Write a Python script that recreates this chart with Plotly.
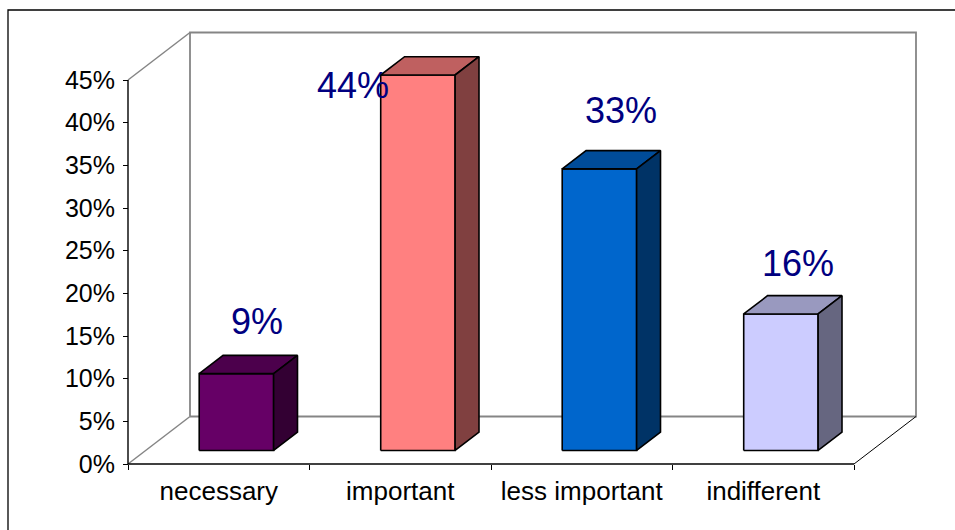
import plotly.graph_objects as go

# ---- data -------------------------------------------------------------
categories = ["necessary", "important", "less important", "indifferent"]
shares = [9, 44, 33, 16]                      # percent of answers
value_labels = ["9%", "44%", "33%", "16%"]
y_ticks = [0, 5, 10, 15, 20, 25, 30, 35, 40, 45]
y_tick_text = [f"{t}%" for t in y_ticks]

# ---- styles -----------------------------------------------------------
front_colors = ["#660066", "#FF8080", "#0066CC", "#CCCCFF"]
top_colors = ["#4C004C", "#BF6060", "#004C99", "#9999BF"]
side_colors = ["#330033", "#804040", "#003366", "#666680"]
label_offsets = [(9, 34), (-77, -29), (10, 40), (5, 32)]   # px shifts of value labels

FONT = "Liberation Sans, Arial, sans-serif"
W, H = 955, 530

# pixel frame of the chart
X0_PX, Y0_PX = 128, 464          # front-left corner of the floor
CAT_PX = 181.5                   # width of one category
PCT_PX = 8.533                   # height of one percent
PLOT_L, PLOT_R, PLOT_T, PLOT_B = 118, 926, 23, 474

x_range = [(PLOT_L - X0_PX) / CAT_PX, (PLOT_R - X0_PX) / CAT_PX]
y_range = [(Y0_PX - PLOT_B) / PCT_PX, (Y0_PX - PLOT_T) / PCT_PX]

# oblique depth of the walls, in data units
DEPTH_X = 62 / CAT_PX
DEPTH_Y = 47.5 / PCT_PX
Y_TOP = y_ticks[-1]
N = len(categories)

BAR_W = 0.41                     # bar width in categories
BAR_D0, BAR_D1 = 0.285, 0.67     # bar depth span as fraction of wall depth

fig = go.Figure()


def seg(xs, ys, color, width=1.3):
    fig.add_trace(go.Scatter(x=xs, y=ys, mode="lines",
                             line=dict(color=color, width=width),
                             hoverinfo="skip", showlegend=False))


def face(xs, ys, fill):
    fig.add_trace(go.Scatter(x=xs + [xs[0]], y=ys + [ys[0]], mode="lines",
                             fill="toself", fillcolor=fill,
                             line=dict(color="black", width=1.6),
                             hoverinfo="skip", showlegend=False))


# ---- walls and floor --------------------------------------------------
GRAY = "#858585"
bx, by = DEPTH_X, DEPTH_Y
seg([bx, bx, N + bx, N + bx, bx], [by, Y_TOP + by, Y_TOP + by, by, by], GRAY, 1.8)
seg([0, bx], [Y_TOP, Y_TOP + by], GRAY, 1.5)
seg([0, bx], [0, by], GRAY, 1.5)
seg([N, N + bx], [0, by], "black", 1.0)
seg([0, N], [0, 0], "black", 1.4)
seg([0, 0], [0, Y_TOP], "black", 1.4)

# ---- bars -------------------------------------------------------------
ddx = (BAR_D1 - BAR_D0) * DEPTH_X
ddy = (BAR_D1 - BAR_D0) * DEPTH_Y
for i, v in enumerate(shares):
    xl = i + 0.5 - BAR_W / 2 + BAR_D0 * DEPTH_X
    xr = xl + BAR_W
    yb = BAR_D0 * DEPTH_Y
    yt = yb + v
    face([xl, xr, xr, xl], [yb, yb, yt, yt], front_colors[i])
    face([xl, xr, xr + ddx, xl + ddx], [yt, yt, yt + ddy, yt + ddy], top_colors[i])
    face([xr, xr + ddx, xr + ddx, xr], [yb, yb + ddy, yt + ddy, yt], side_colors[i])

    dx, dy = label_offsets[i]
    fig.add_annotation(x=i + 0.5 + (BAR_D0 + BAR_D1) / 2 * DEPTH_X,
                       y=v + BAR_D1 * DEPTH_Y,
                       text=value_labels[i], showarrow=False,
                       xanchor="center", yanchor="middle",
                       xshift=dx, yshift=dy,
                       font=dict(family=FONT, size=36, color="#000080"))

# ---- outer chart border ----------------------------------------------
pw, ph = PLOT_R - PLOT_L, PLOT_B - PLOT_T
fig.add_shape(type="rect", xref="paper", yref="paper",
              x0=(8 - PLOT_L) / pw, x1=(962 - PLOT_L) / pw,
              y0=(PLOT_B - 540) / ph, y1=(PLOT_B - 10) / ph,
              line=dict(color="black", width=1.3), fillcolor="rgba(0,0,0,0)")

fig.update_layout(
    width=W, height=H,
    margin=dict(l=PLOT_L, r=W - PLOT_R, t=PLOT_T, b=H - PLOT_B, pad=0),
    paper_bgcolor="white", plot_bgcolor="white",
    showlegend=False,
    font=dict(family=FONT, size=25, color="black"),
    xaxis=dict(range=x_range, anchor="free",
               position=(PLOT_B - Y0_PX) / ph,
               tickmode="array", tickvals=[i + 0.5 for i in range(N)],
               ticktext=categories, ticks="", ticklabelstandoff=9,
               minor=dict(tickmode="array", tickvals=list(range(N + 1)),
                          ticks="outside", ticklen=5, tickcolor="black",
                          tickwidth=1.3, showgrid=False),
               showgrid=False, zeroline=False, showline=False,
               tickfont=dict(family=FONT, size=26, color="black")),
    yaxis=dict(range=y_range, anchor="free",
               position=(X0_PX - PLOT_L) / pw,
               tickmode="array", tickvals=y_ticks, ticktext=y_tick_text,
               ticks="outside", ticklen=5, tickcolor="black", tickwidth=1.3,
               ticklabelstandoff=3,
               showgrid=False, zeroline=False, showline=False,
               tickfont=dict(family=FONT, size=25, color="black")),
)

fig.write_html("out.html")
